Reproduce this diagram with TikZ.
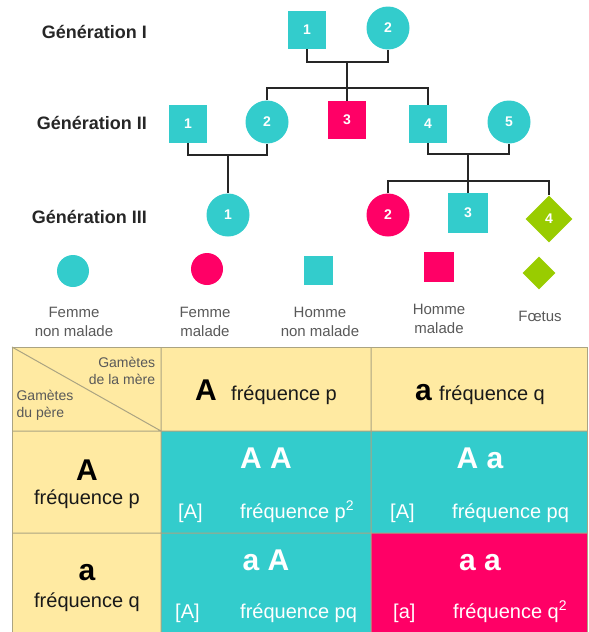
\documentclass[tikz,border=0pt]{standalone}
\usepackage{fontspec}
\setmainfont{Liberation Sans}
\usetikzlibrary{shapes.geometric}
\definecolor{sain}{HTML}{33CCCC}
\definecolor{malade}{HTML}{FF0066}
\definecolor{foetus}{HTML}{99CC00}
\definecolor{entete}{HTML}{FFEAA2}
\definecolor{trait}{HTML}{ABA482}

\begin{document}
\begin{tikzpicture}[x=1pt, y=-1pt, every node/.style={inner sep=0pt},
	ind/.style={text=white, font=\fontsize{14}{14}\selectfont\bfseries},
	homme/.style={ind, rectangle, minimum size=38pt, fill=sain},
	femme/.style={ind, circle, minimum size=43pt, fill=sain},
	lien/.style={line width=1.5pt, draw=black!85},
	gen/.style={anchor=east, font=\fontsize{18}{18}\selectfont\bfseries, text=black!85},
	leg/.style={align=center, font=\fontsize{15}{19}\selectfont, text=black!65},
	gam/.style={font=\fontsize{14}{17}\selectfont, text=black!65},
	freq/.style={font=\fontsize{20}{20}\selectfont, text=black!90},
	allele/.style={font=\fontsize{30}{30}\selectfont\bfseries},
	cell/.style={font=\fontsize{20}{20}\selectfont, text=white}]
	\useasboundingbox (0,0) rectangle (589,632);
	% pedigree
	\node[gen] (lgI) at (147,32) {Génération I};
	\node[gen] (lgII) at (147,123) {Génération II};
	\node[gen] (lgIII) at (147,217) {Génération III};
	\node[homme] (I1) at (307,30) {1};
	\node[femme] (I2) at (388,28) {2};
	\node[homme] (II1) at (188,124) {1};
	\node[femme] (II2) at (267,122) {2};
	\node[homme, fill=malade] (II3) at (347,120) {3};
	\node[homme] (II4) at (428,124) {4};
	\node[femme] (II5) at (509,122) {5};
	\node[femme] (III1) at (228,215) {1};
	\node[femme, fill=malade] (III2) at (388,215) {2};
	\node[homme, minimum size=40pt] (III3) at (468,213) {3};
	\node[ind, diamond, fill=foetus, minimum size=47pt] (III4) at (549,219) {4};
	\coordinate (m1) at (347,62);
	\coordinate (s1) at (347,88);
	\coordinate (m2) at (228,155);
	\coordinate (m3) at (468,154);
	\coordinate (s3) at (468,181);
	\draw[lien] (I1.south) |- (m1) -| (I2.south);
	\draw[lien] (m1) -- (s1) -- (II3.north);
	\draw[lien] (II2.north) |- (s1) -| (II4.north);
	\draw[lien] (II1.south) |- (m2) -| (II2.south);
	\draw[lien] (m2) -- (III1.north);
	\draw[lien] (II4.south) |- (m3) -| (II5.south);
	\draw[lien] (m3) -- (s3) -- (III3.north);
	\draw[lien] (III2.north) |- (s3) -| (III4.north);
	% legend
	\node[circle, fill=sain, minimum size=32pt] (lgFs) at (73,271) {};
	\node[circle, fill=malade, minimum size=32pt] (lgFm) at (207,269) {};
	\node[fill=sain, minimum size=29pt] (lgHs) at (318,270) {};
	\node[fill=malade, minimum size=30pt] (lgHm) at (439,267) {};
	\node[diamond, fill=foetus, minimum size=33pt] (lgFt) at (539,273) {};
	\node[leg] (txFs) at (74,322) {Femme\\non malade};
	\node[leg] (txFm) at (205,322) {Femme\\malade};
	\node[leg] (txHs) at (320,322) {Homme\\non malade};
	\node[leg] (txHm) at (439,319) {Homme\\malade};
	\node[leg, anchor=base] (txFt) at (540,321) {Fœtus};
	% table
	\fill[entete] (12,347) rectangle (587,431) (12,431) rectangle (161,632);
	\fill[sain] (161,431) rectangle (587,533) (161,533) rectangle (371,632);
	\fill[malade] (371,533) rectangle (587,632);
	\draw[trait, line width=1pt] (12,347) rectangle (587,632);
	\draw[trait, line width=1pt] (161,347) -- (161,632) (371,347) -- (371,632)
		(12,431) -- (587,431) (12,533) -- (587,533) (12,347) -- (161,431);
	\node[gam, align=right] (gmere) at (122,371) {Gamètes\\de la mère};
	\node[gam, align=left] (gpere) at (45,405) {Gamètes\\du père};
	\node[allele, anchor=base west] (hA) at (195,400) {A};
	\node[freq, anchor=base west] (hAf) at (231,400) {fréquence p};
	\node[allele, anchor=base west] (ha) at (415,400) {a};
	\node[freq, anchor=base west] (haf) at (439,400) {fréquence q};
	\node[allele, anchor=base] (vA) at (87,480) {A};
	\node[freq, anchor=base] (vAf) at (87,504) {fréquence p};
	\node[allele, anchor=base] (va) at (87,580) {a};
	\node[freq, anchor=base] (vaf) at (87,607) {fréquence q};
	\node[allele, text=white, anchor=base] (cAA) at (266,468) {A A};
	\node[cell, anchor=base west] (cAAp) at (178,518) {[A]};
	\node[cell, anchor=base west] (cAAf) at (240,518) {fréquence p\textsuperscript{2}};
	\node[allele, text=white, anchor=base] (cAa) at (480,468) {A a};
	\node[cell, anchor=base west] (cAap) at (390,518) {[A]};
	\node[cell, anchor=base west] (cAaf) at (452,518) {fréquence pq};
	\node[allele, text=white, anchor=base] (caA) at (266,570) {a A};
	\node[cell, anchor=base west] (caAp) at (175,618) {[A]};
	\node[cell, anchor=base west] (caAf) at (240,618) {fréquence pq};
	\node[allele, text=white, anchor=base] (caa) at (480,570) {a a};
	\node[cell, anchor=base west] (caap) at (393,618) {[a]};
	\node[cell, anchor=base west] (caaf) at (453,618) {fréquence q\textsuperscript{2}};
\end{tikzpicture}
\end{document}
